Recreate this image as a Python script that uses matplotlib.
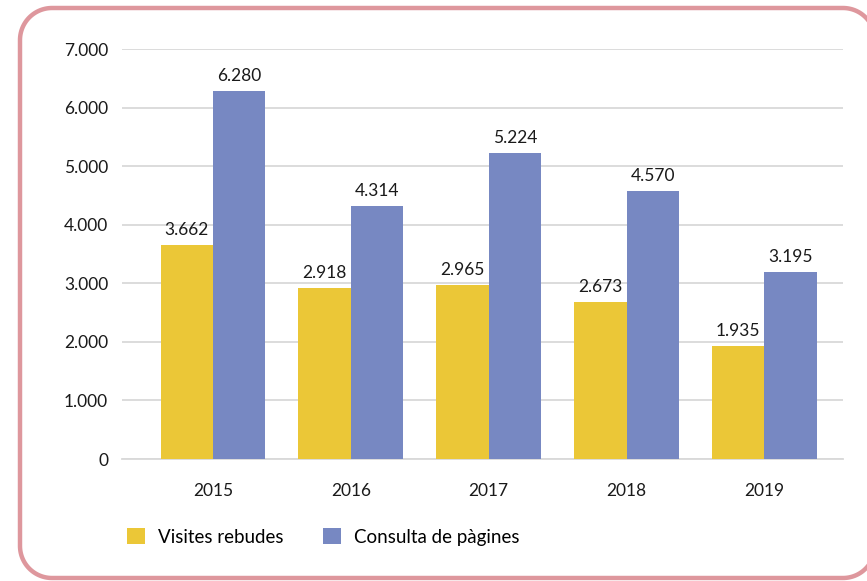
import matplotlib
matplotlib.use("Agg")
import matplotlib.pyplot as plt
from matplotlib.lines import Line2D
from matplotlib.transforms import IdentityTransform
import numpy as np

years = ["2015", "2016", "2017", "2018", "2019"]
visites = [3662, 2918, 2965, 2673, 1935]
consulta = [6280, 4314, 5224, 4570, 3195]
series_names = ["Visites rebudes", "Consulta de pàgines"]
yticks = [0, 1000, 2000, 3000, 4000, 5000, 6000, 7000]
colors = ["#EBC737", "#7788C2"]

plt.rcParams['font.family'] = ['Lato', 'DejaVu Sans']

W, H = 867, 581
fig = plt.figure(figsize=(W/100, H/100), dpi=100)

# rounded border, pixel coordinates (y measured from top)
L, R, T, B, rad = 20, 875, 8, 578, 32
def arc(cx, cy, a0, a1):
    t = np.radians(np.linspace(a0, a1, 30))
    return cx + rad*np.cos(t), cy - rad*np.sin(t)
xs, ys = [], []
for cx, cy, a0, a1 in [(R-rad, T+rad, 0, 90), (L+rad, T+rad, 90, 180),
                       (L+rad, B-rad, 180, 270), (R-rad, B-rad, 270, 360)]:
    ax_, ay_ = arc(cx, cy, a0, a1)
    xs.extend(ax_); ys.extend(ay_)
xs.append(xs[0]); ys.append(ys[0])
border = Line2D(np.array(xs), H - np.array(ys), transform=IdentityTransform(),
                color="#DE979D", linewidth=3.2, solid_joinstyle="round")
fig.lines.append(border)

ax = fig.add_axes([122/W, 1 - 459/H, (843-122)/W, (459-49)/H])
x = np.arange(len(years))
bw = 0.38
b1 = ax.bar(x - bw/2, visites, bw, color=colors[0], label=series_names[0], zorder=3)
b2 = ax.bar(x + bw/2, consulta, bw, color=colors[1], label=series_names[1], zorder=3)

def fmt(v):
    return f"{v:,}".replace(",", ".")

fs = 12.5
for bars, vals in ((b1, visites), (b2, consulta)):
    for r, v in zip(bars, vals):
        ax.annotate(fmt(v), (r.get_x() + r.get_width()/2, r.get_height()),
                    xytext=(0, 5), textcoords="offset points",
                    ha="center", va="bottom", fontsize=fs, color="#1a1a1a")

ax.set_ylim(0, 7000)
ax.set_xlim(-0.66, 4.57)
ax.set_yticks(yticks)
ax.set_yticklabels([fmt(v) for v in yticks], fontsize=fs, color="#1a1a1a")
ax.set_xticks(x)
ax.set_xticklabels(years, fontsize=fs, color="#1a1a1a")
ax.tick_params(axis="both", length=0)
ax.tick_params(axis="y", pad=10)
ax.tick_params(axis="x", pad=17)
ax.grid(axis="y", color="#D9D9D9", linewidth=1.3, zorder=0)
for s in ["top", "right", "left"]:
    ax.spines[s].set_visible(False)
ax.spines["bottom"].set_color("#D9D9D9")
ax.spines["bottom"].set_linewidth(1.3)

leg = fig.legend(handles=[b1, b2], labels=series_names, loc="center left",
                 bbox_to_anchor=(110/W, 1 - 537/H), ncol=2, frameon=False,
                 fontsize=13.5, handlelength=0.95, handleheight=0.95,
                 columnspacing=2.1, handletextpad=0.7)

fig.savefig("out.png", dpi=100)
